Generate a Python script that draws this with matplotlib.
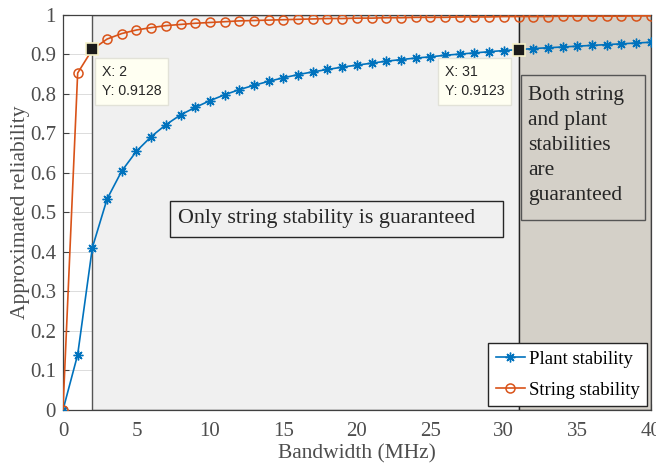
""" Approximated reliability vs bandwidth

"""

# --------------------------------------------------
#   Imports
# --------------------------------------------------

import numpy as np
import matplotlib
matplotlib.use("Agg")
import matplotlib.pyplot as plt
from matplotlib.patches import Rectangle


# --------------------------------------------------
#   Data
# --------------------------------------------------

bandwidth = np.arange(0, 41)

plant_stability = [
    0.0, 0.140, 0.411, 0.534, 0.605, 0.655, 0.692, 0.722, 0.747, 0.766,
    0.783, 0.798, 0.811, 0.822, 0.832, 0.841, 0.849, 0.856, 0.862, 0.868,
    0.873, 0.878, 0.883, 0.887, 0.891, 0.894, 0.898, 0.901, 0.904, 0.907,
    0.910, 0.9123, 0.915, 0.917, 0.919, 0.921, 0.923, 0.925, 0.927, 0.929,
    0.931,
]

string_stability = [
    0.0, 0.853, 0.9128, 0.939, 0.953, 0.962, 0.968, 0.973, 0.976, 0.979,
    0.981, 0.983, 0.985, 0.986, 0.987, 0.988, 0.989, 0.990, 0.991, 0.991,
    0.992, 0.992, 0.993, 0.993, 0.994, 0.994, 0.994, 0.995, 0.995, 0.995,
    0.996, 0.996, 0.996, 0.996, 0.997, 0.997, 0.997, 0.997, 0.997, 0.998,
    0.998,
]

string_only_range = (2, 31)
both_range = (31, 40)

datatips = [(2, 0.9128), (31, 0.9123)]

xticks = np.arange(0, 41, 5)
yticks = np.round(np.arange(0, 1.01, 0.1), 1)


# --------------------------------------------------
#   Plot
# --------------------------------------------------

plt.rcParams['font.family'] = ['Liberation Serif', 'DejaVu Serif']
axis_color = '#404040'
label_color = '#4d4d4d'
blue = '#0072BD'
orange = '#D95319'

fig = plt.figure(figsize=(6.56, 4.68), dpi=100)
ax = fig.add_axes([0.096, 0.124, 0.896, 0.844])

ax.set_xlim(0, 40)
ax.set_ylim(0, 1)

# faint grid, hidden by the shaded regions
ax.grid(True, color='#dcdcdc', linewidth=0.7, zorder=0)
ax.set_axisbelow(True)

# shaded regions
ax.add_patch(Rectangle((string_only_range[0], 0), string_only_range[1] - string_only_range[0], 1,
                       facecolor='#f0f0f0', edgecolor='#555555', linewidth=1.0, zorder=1))
ax.add_patch(Rectangle((both_range[0], 0), both_range[1] - both_range[0], 1,
                       facecolor='#d4d0c8', edgecolor='#222222', linewidth=1.0, zorder=1))

# region label boxes
ax.add_patch(Rectangle((7.28, 0.438), 22.65, 0.091, facecolor='#f0f0f0',
                       edgecolor='#262626', linewidth=1.0, zorder=2))
ax.text(7.85, 0.484, "Only string stability is guaranteed", fontsize=15.8,
        color='#262626', ha='left', va='center', zorder=2.5)

ax.add_patch(Rectangle((31.16, 0.481), 8.44, 0.367, facecolor='#d4d0c8',
                       edgecolor='#555555', linewidth=1.0, zorder=2))
ax.text(31.63, 0.67, "Both string\nand plant\nstabilities\nare\nguaranteed",
        fontsize=15.5, color='#262626', ha='left', va='center',
        linespacing=1.42, zorder=2.5)

ax.plot(bandwidth, plant_stability, color=blue, marker=(8, 2, 0), markersize=7,
        markeredgewidth=1.0, linewidth=1.2, label='Plant stability', zorder=3)
ax.plot(bandwidth, string_stability, color=orange, marker='o', markersize=6.5,
        markerfacecolor='none', markeredgewidth=1.1, linewidth=1.2,
        label='String stability', zorder=3)

# data tips
tip_styles = [((6.7, -11), 'left'), ((-10.3, -11), 'right')]
for (tx, ty), (offset, align) in zip(datatips, tip_styles):
    ax.plot(tx, ty, marker='s', markersize=9, color='#1a1a1a',
            markeredgecolor='#f5f0c8', markeredgewidth=1.2, zorder=5)
    ax.annotate(f"X: {tx}\nY: {ty}", xy=(tx, ty), xytext=offset,
                textcoords='offset points', ha=align, va='top',
                multialignment='left',
                family=['Liberation Sans', 'DejaVu Sans'], fontsize=10.2,
                color='#262626', linespacing=1.45, zorder=6,
                bbox=dict(boxstyle='square,pad=0.5', facecolor='#fffff2',
                          edgecolor='#e2e2d8', linewidth=1.0))

ax.set_xticks(xticks)
ax.set_yticks(yticks)
ax.set_yticklabels([f"{v:g}" for v in yticks])
ax.tick_params(axis='both', direction='in', colors=axis_color, labelsize=15,
               length=4, labelcolor=label_color, top=False, right=False)
ax.tick_params(axis='x', pad=9)
ax.tick_params(axis='y', pad=5)
for spine in ax.spines.values():
    spine.set_color(axis_color)
    spine.set_linewidth(0.9)

ax.set_xlabel("Bandwidth (MHz)", fontsize=15.5, color=label_color, labelpad=2)
ax.set_ylabel("Approximated reliability", fontsize=15.5, color=label_color, labelpad=0)

leg = ax.legend(loc='lower right', fontsize=13.5, frameon=True, fancybox=False,
                edgecolor='#262626', framealpha=1, borderpad=0.4,
                handlelength=1.55, handletextpad=0.2, labelspacing=0.75,
                borderaxespad=0.2)
leg.get_frame().set_linewidth(1.0)
leg.set_zorder(7)

fig.savefig("out.png", dpi=100)
